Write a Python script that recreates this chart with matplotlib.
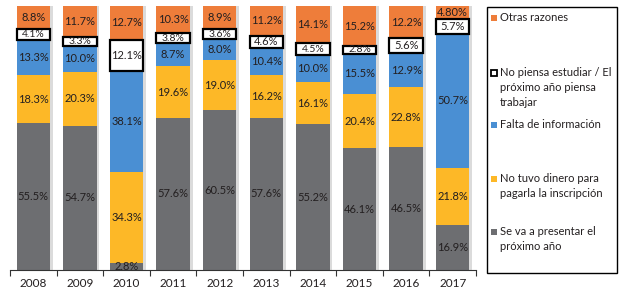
import matplotlib
matplotlib.use("Agg")
import matplotlib.pyplot as plt
from matplotlib.patches import Rectangle
import numpy as np

plt.rcParams['font.family'] = ['Lato', 'DejaVu Sans']

years = ['2008', '2009', '2010', '2011', '2012', '2013', '2014', '2015', '2016', '2017']
presentar = [55.5, 54.7, 2.8, 57.6, 60.5, 57.6, 55.2, 46.1, 46.5, 16.9]
dinero = [18.3, 20.3, 34.3, 19.6, 19.0, 16.2, 16.1, 20.4, 22.8, 21.8]
informacion = [13.3, 10.0, 38.1, 8.7, 8.0, 10.4, 10.0, 15.5, 12.9, 50.7]
no_estudiar = [4.1, 3.3, 12.1, 3.8, 3.6, 4.6, 4.5, 2.8, 5.6, 5.7]
otras = [8.8, 11.7, 12.7, 10.3, 8.9, 11.2, 14.1, 15.2, 12.2, 4.8]
label_text = {4: ['8.8%', '11.7%', '12.7%', '10.3%', '8.9%', '11.2%', '14.1%', '15.2%', '12.2%', '4.80%']}

series = [presentar, dinero, informacion, no_estudiar, otras]
names = ['Se va a presentar el\npróximo año',
         'No tuvo dinero para\npagarla la inscripción',
         'Falta de información',
         'No piensa estudiar / El\npróximo año piensa\ntrabajar',
         'Otras razones']
colors = ['#6D6E71', '#FDB827', '#4A8FD3', '#FFFFFF', '#EE7D3A']
edges = [None, None, None, '#000000', None]

W, H = 624, 292
fig = plt.figure(figsize=(W / 100, H / 100), dpi=100)
ax = fig.add_axes([10 / W, 1 - 270 / H, (476 - 10) / W, (270 - 6) / H])
x = np.arange(len(years))
bw = 0.72

# shadow
ax.bar(x + 0.06, [100] * len(x), bw, color='#9a9a9a', alpha=0.35, zorder=1, linewidth=0)

bottom = np.zeros(len(x))
for i, (vals, c, e) in enumerate(zip(series, colors, edges)):
    vals = np.array(vals)
    if e:
        ax.bar(x, vals, bw, bottom=bottom, color=c, edgecolor=e, linewidth=1.6, zorder=3)
    else:
        ax.bar(x, vals, bw, bottom=bottom, color=c, linewidth=0, zorder=2)
    for j in range(len(x)):
        txt = label_text[i][j] if i in label_text else f'{vals[j]:.1f}%'
        fs = 8 if vals[j] > 4.5 or i != 3 else 7.5
        ax.text(x[j], bottom[j] + vals[j] / 2, txt, ha='center', va='center',
                fontsize=fs, color='#231F20', zorder=4)
    bottom += vals

ax.set_xlim(-0.5, len(x) - 0.5)
ax.set_ylim(0, 100)
for s in ['top', 'right', 'left']:
    ax.spines[s].set_visible(False)
ax.spines['bottom'].set_color('#333333')
ax.spines['bottom'].set_linewidth(0.8)
ax.set_yticks([])
ax.set_xticks(np.arange(-0.5, len(x), 1.0))
ax.set_xticklabels([])
ax.set_xticks(x, minor=True)
ax.set_xticklabels(years, minor=True, fontsize=8.5, color='#231F20')
ax.tick_params(axis='x', which='major', length=4, width=0.8, color='#333333')
ax.tick_params(axis='x', which='minor', length=0, pad=6)

# legend box
def fx(px):
    return px / W
def fy(py):
    return 1 - py / H

fig.patches.append(Rectangle((fx(487), fy(273)), (617 - 487) / W, (273 - 7) / H,
                             transform=fig.transFigure, fill=False, edgecolor='#000000',
                             linewidth=1.0))
leg_y = [18, 73, 125, 179, 232]
leg_order = [4, 3, 2, 1, 0]
for yy, k in zip(leg_y, leg_order):
    lw = 1.3 if edges[k] else 0
    fig.patches.append(Rectangle((fx(491), fy(yy + 3)), 6 / W, 6 / H, transform=fig.transFigure,
                                 facecolor=colors[k], edgecolor=edges[k] or colors[k], linewidth=lw))
    fig.text(fx(500), fy(yy - 6), names[k], ha='left', va='top', fontsize=8,
             color='#231F20', linespacing=1.45)

fig.savefig('out.png', dpi=100)
